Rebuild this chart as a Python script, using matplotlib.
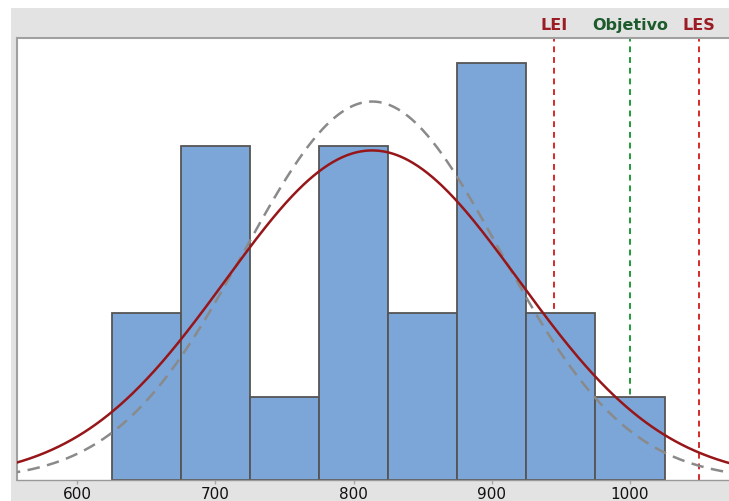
import matplotlib
matplotlib.use("Agg")
import matplotlib.pyplot as plt
from matplotlib.patches import Rectangle
import numpy as np

# ----------------------------------------------------------------------
#  DATA
# ----------------------------------------------------------------------
bin_left    = [625, 675, 725, 775, 825, 875, 925, 975]
bin_counts  = [2, 4, 1, 4, 2, 5, 2, 1]
bin_width   = 50

mean_value    = 813.5
sigma_overall = 106.0
sigma_within  = 92.3

spec_names  = ['LEI', 'Objetivo', 'LES']
spec_values = [945, 1000, 1050]
spec_colors = ['#d42a2a', '#1f9a3a', '#d42a2a']
label_colors = ['#9c1c24', '#1d5a2c', '#9c1c24']

x_ticks = [600, 700, 800, 900, 1000]

# ----------------------------------------------------------------------
#  PLOT
# ----------------------------------------------------------------------
W, H = 729, 502
fig = plt.figure(figsize=(W / 100, H / 100), dpi=100)
fig.patch.set_facecolor('white')

# gray panel behind the plot
fig.patches.append(Rectangle((11 / W, 0), 1 - 11 / W, 1 - 9 / H,
                             transform=fig.transFigure, facecolor='#e3e3e3',
                             edgecolor='none', zorder=-10))

ax = fig.add_axes([17 / W, (H - 481) / H, (W - 17) / W, (481 - 39) / H])
ax.set_facecolor('white')

ax.bar(bin_left, bin_counts, width=bin_width, align='edge',
       color='#7ca6d8', edgecolor='#555555', linewidth=1.3, zorder=2)

n_total = sum(bin_counts)
xs = np.linspace(550, 1080, 600)
scale = n_total * bin_width
fit_overall = scale / (sigma_overall * np.sqrt(2 * np.pi)) * np.exp(-0.5 * ((xs - mean_value) / sigma_overall) ** 2)
fit_within = scale / (sigma_within * np.sqrt(2 * np.pi)) * np.exp(-0.5 * ((xs - mean_value) / sigma_within) ** 2)

ax.plot(xs, fit_within, color='#8a8a8a', linewidth=1.8, linestyle=(0, (5, 3)), zorder=3)
ax.plot(xs, fit_overall, color='#961619', linewidth=1.8, zorder=4)

# spec limits sit behind the bars
for name, val, lc, tc in zip(spec_names, spec_values, spec_colors, label_colors):
    ax.axvline(val, color=lc, linewidth=1.4, linestyle=(0, (3, 2.5)), zorder=1)
    ax.text(val, 1.0 + 14 / (481 - 39), name, transform=ax.get_xaxis_transform(),
            ha='center', va='center', color=tc, fontsize=11.5, fontweight='semibold',
            clip_on=False)

ax.set_xlim(556.6, 1071.6)
ax.set_ylim(0, 5.3)
ax.set_xticks(x_ticks)
ax.set_xticklabels([str(t) for t in x_ticks], fontsize=11, color='#111111')
ax.tick_params(axis='x', length=3, width=1, color='#aaaaaa', pad=1.5)
ax.set_yticks([])

for side in ['left', 'top']:
    ax.spines[side].set_color('#a0a0a0')
    ax.spines[side].set_linewidth(1.5)
ax.spines['bottom'].set_color('#999999')
ax.spines['bottom'].set_linewidth(1)
ax.spines['right'].set_visible(False)

fig.savefig('out.png', dpi=100)
